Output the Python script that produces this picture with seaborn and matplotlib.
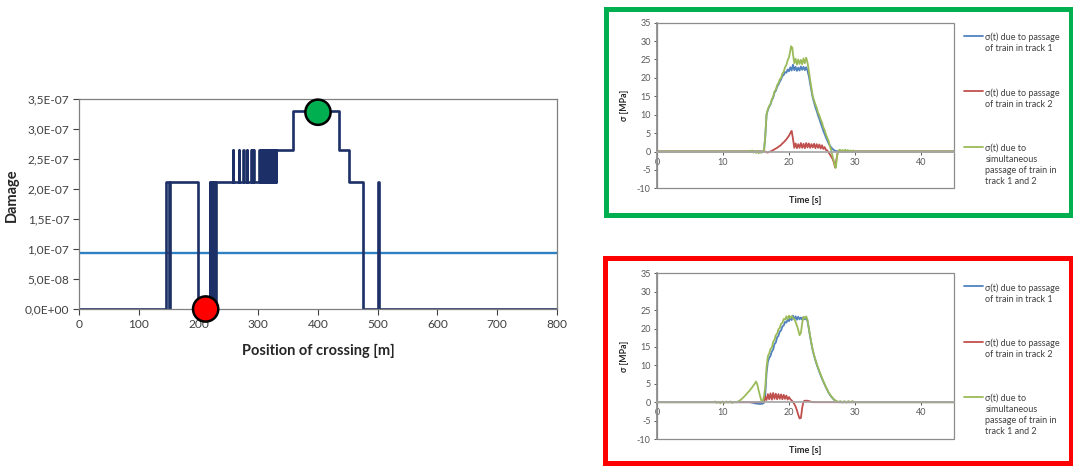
import matplotlib
matplotlib.use("Agg")
import matplotlib.pyplot as plt
import seaborn as sns
from matplotlib.patches import Rectangle

# ---------------- data: damage vs. position of crossing ----------------
L1, L2, L3 = 2.12e-07, 2.65e-07, 3.30e-07
crossing_pos = [0, 146, 151, 153, 199,
                219, 220, 221, 222, 223, 224, 225, 226, 227, 228, 229,
                257, 258, 267, 268, 275, 276, 281, 282, 288, 289, 290, 291, 292, 293,
                302, 303, 304, 305, 306, 308, 309, 310, 311, 313, 314, 316, 317,
                318, 319, 321, 322, 324, 325, 326, 327, 329, 330,
                359, 435, 452, 476, 500, 502, 800]
damage = [0, L1, 0, L1, 0,
          L1, 0, L1, 0, L1, 0, L1, 0, L1, 0, L1,
          L2, L1, L2, L1, L2, L1, L2, L1, L2, L1, L2, L1, L2, L1,
          L2, L1, L2, L1, L2, L1, L2, L1, L2, L1, L2, L1, L2,
          L1, L2, L1, L2, L1, L2, L1, L2, L1, L2,
          L3, L2, L1, 0, L1, 0, 0]
damage_limit = 9.4e-08
marker_pos = [212, 400]
marker_dmg = [0.0, 3.28e-07]
marker_colors = ["#ff0000", "#00b050"]
damage_ticks = [0, 5e-08, 1e-07, 1.5e-07, 2e-07, 2.5e-07, 3e-07, 3.5e-07]
damage_tick_labels = ["0,0E+00", "5,0E-08", "1,0E-07", "1,5E-07",
                      "2,0E-07", "2,5E-07", "3,0E-07", "3,5E-07"]
pos_ticks = [0, 100, 200, 300, 400, 500, 600, 700, 800]

# ---------------- data: stress time histories (top, green frame) ----------------
top_t1 = [0, 16.2, 16.4, 16.6, 16.8, 17.0, 17.2, 17.4, 17.6, 17.8, 18.0, 18.2, 18.4, 18.6, 18.8,
          19.0, 19.2, 19.4, 19.6, 19.8, 20.0, 20.2, 20.4, 20.6, 20.8, 21.0, 21.2, 21.4, 21.6,
          21.8, 22.0, 22.2, 22.4, 22.6, 22.8, 23.0, 23.2, 23.4, 23.6, 23.8, 24.0, 24.2, 24.4,
          24.6, 24.8, 25.0, 25.2, 25.4, 25.6, 25.8, 26.0, 26.2, 26.4, 26.6, 26.8, 27.0, 27.2,
          27.5, 45]
top_s1 = [0, 0, 4.0, 10.0, 11.3, 12.2, 12.8, 14.0, 14.6, 16.0, 16.5, 17.6, 18.2, 19.0, 19.6,
          20.5, 20.8, 21.6, 21.4, 22.3, 21.8, 22.9, 22.0, 23.6, 22.1, 23.0, 21.9, 22.8, 22.0,
          23.1, 22.2, 23.0, 22.1, 22.9, 22.0, 20.5, 18.5, 16.5, 14.6, 13.3, 12.0, 11.0, 9.8,
          8.8, 7.7, 6.7, 5.6, 4.7, 3.8, 3.0, 2.2, 1.6, 1.1, 0.7, 0.4, 0.2, 0.1,
          0.0, 0]
top_t2 = [0, 16.4, 16.6, 16.8, 17.0, 17.2, 17.4, 17.6, 17.8, 18.0, 18.2, 18.4, 18.6, 18.8,
          19.0, 19.2, 19.4, 19.6, 19.8, 20.0, 20.2, 20.4, 20.6, 20.8, 21.0, 21.2, 21.4, 21.6,
          21.8, 22.0, 22.2, 22.4, 22.6, 22.8, 23.0, 23.2, 23.4, 23.6, 23.8, 24.0, 24.2, 24.4,
          24.6, 24.8, 25.0, 25.2, 25.4, 25.6, 25.8, 26.0, 26.2, 26.4, 26.6, 26.8, 27.0, 27.2,
          27.4, 45]
top_s2 = [0, 0, -0.2, -0.3, -0.1, 0.0, 0.2, 0.4, 0.6, 0.8, 1.0, 1.3, 1.5, 1.8,
          2.2, 2.5, 2.9, 3.3, 3.8, 4.3, 5.0, 5.6, 3.5, 1.0, 2.2, 0.9, 2.0, 1.0,
          2.3, 1.0, 2.1, 0.9, 2.3, 1.1, 2.2, 1.0, 2.0, 1.1, 2.1, 0.9, 2.0, 1.0,
          1.9, 0.8, 1.7, 0.7, 1.2, 0.4, 0.3, -0.3, -0.8, -1.4, -2.0, -3.0, -4.4, -2.0,
          0.0, 0]
top_t12 = [0, 13.8, 14.0, 14.2, 14.4, 14.6, 14.8, 15.0, 15.2, 15.4, 15.6, 15.8, 16.0, 16.2,
           16.4, 16.6, 16.8, 17.0, 17.2, 17.4, 17.6, 17.8, 18.0, 18.2, 18.4, 18.6, 18.8,
           19.0, 19.2, 19.4, 19.6, 19.8, 20.0, 20.2, 20.3, 20.4, 20.5, 20.6, 20.8, 21.0,
           21.2, 21.4, 21.6, 21.8, 22.0, 22.2, 22.4, 22.6, 22.8, 23.0, 23.2, 23.4, 23.6,
           23.8, 24.0, 24.2, 24.4, 24.6, 24.8, 25.0, 25.2, 25.4, 25.6, 25.8, 26.0, 26.2,
           26.4, 26.6, 26.8, 27.0, 27.1, 27.3, 27.5, 27.7, 27.9, 28.1, 28.3, 28.5, 28.7,
           28.9, 29.1, 29.3, 29.5, 29.7, 29.9, 30.1, 45]
top_s12 = [0, 0, 0.2, -0.2, 0.3, -0.3, 0.1, -0.4, 0.2, -0.5, 0.0, -0.4, 0.1, 0.0,
           4.0, 10.2, 11.5, 12.4, 12.9, 14.2, 14.8, 16.3, 16.8, 18.0, 18.6, 19.6, 20.0,
           21.2, 21.7, 22.9, 23.5, 24.8, 25.6, 27.4, 28.6, 27.8, 28.3, 26.5, 24.0, 25.2,
           23.6, 25.0, 23.8, 24.9, 23.7, 25.3, 24.0, 25.5, 24.2, 22.0, 19.5, 17.2, 15.0,
           13.9, 12.8, 11.9, 10.6, 9.8, 8.7, 7.9, 6.6, 5.8, 4.6, 3.7, 2.9, 1.4,
           0.3, -1.3, -2.6, -4.2, -4.4, -1.0, 0.2, 0.5, 0.1, 0.4, 0.0, 0.5, 0.1,
           0.4, 0.0, 0.3, -0.1, 0.3, 0.0, 0.0, 0]

# ---------------- data: stress time histories (bottom, red frame) ----------------
bot_t1 = [0, 14.0, 14.4, 14.8, 15.2, 15.6, 16.0, 16.2, 16.4, 16.6, 16.8, 17.0, 17.2, 17.4,
          17.6, 17.8, 18.0, 18.2, 18.4, 18.6, 18.8, 19.0, 19.2, 19.4, 19.6, 19.8, 20.0, 20.2,
          20.4, 20.6, 20.8, 21.0, 21.2, 21.4, 21.6, 21.8, 22.0, 22.2, 22.4, 22.6, 22.8, 23.0,
          23.2, 23.4, 23.6, 23.8, 24.0, 24.2, 24.4, 24.6, 24.8, 25.0, 25.2, 25.4, 25.6, 25.8,
          26.0, 26.2, 26.4, 26.6, 26.8, 27.0, 27.2, 27.5, 45]
bot_s1 = [0, 0, -0.1, -0.3, -0.4, -0.5, -0.4, -0.2, 2.0, 8.0, 11.0, 12.0, 12.6, 13.8,
          14.3, 15.8, 16.2, 17.6, 18.0, 19.2, 19.5, 20.6, 20.8, 21.8, 21.6, 22.5, 22.0, 23.0,
          22.3, 23.5, 22.5, 23.3, 22.4, 23.2, 22.5, 23.0, 22.4, 23.1, 22.5, 23.0, 22.0, 20.0,
          17.8, 15.8, 14.0, 12.6, 11.4, 10.2, 9.2, 8.2, 7.3, 6.4, 5.6, 4.8, 4.0, 3.3,
          2.6, 2.0, 1.5, 1.1, 0.7, 0.4, 0.2, 0.0, 0]
bot_t2 = [0, 16.2, 16.4, 16.6, 16.8, 17.0, 17.2, 17.4, 17.6, 17.8, 18.0, 18.2, 18.4, 18.6,
          18.8, 19.0, 19.2, 19.4, 19.6, 19.8, 20.0, 20.2, 20.4, 20.6, 20.8, 21.0, 21.2, 21.4,
          21.6, 21.8, 22.0, 22.2, 22.4, 22.8, 23.2, 23.6, 45]
bot_s2 = [0, 0, 1.5, 0.6, 2.2, 0.8, 2.4, 0.7, 2.5, 0.9, 2.3, 0.8, 2.2, 0.9,
          2.1, 0.8, 2.0, 0.9, 1.8, 0.7, 1.4, 0.8, 0.5, 0.1, -0.5, -1.2, -2.2, -3.4,
          -4.4, -4.3, -1.5, 0.2, 0.4, 0.4, 0.2, 0.0, 0]
bot_t12 = [0, 8.6, 8.8, 9.0, 9.3, 9.6, 9.9, 10.2, 10.5, 10.8, 11.1, 11.4, 11.7, 12.0,
           12.4, 12.8, 13.2, 13.6, 14.0, 14.4, 14.8, 15.0, 15.2, 15.4, 15.6, 15.8, 16.0,
           16.1, 16.2, 16.4, 16.6, 16.8, 17.0, 17.2, 17.4, 17.6, 17.8, 18.0, 18.2, 18.4,
           18.6, 18.8, 19.0, 19.2, 19.4, 19.6, 19.8, 20.0, 20.2, 20.4, 20.6, 20.8, 21.0,
           21.2, 21.4, 21.6, 21.8, 22.0, 22.2, 22.4, 22.6, 22.8, 23.0, 23.2, 23.4, 23.6,
           23.8, 24.0, 24.2, 24.4, 24.6, 24.8, 25.0, 25.2, 25.4, 25.6, 25.8, 26.0, 26.2,
           26.4, 26.6, 26.8, 27.0, 27.2, 27.5, 27.8, 28.1, 28.4, 28.7, 29.0, 29.3, 29.6,
           29.9, 30.0, 45]
bot_s12 = [0, 0, 0.2, -0.2, 0.1, -0.3, 0.2, -0.2, 0.2, -0.1, 0.2, -0.2, 0.1, 0.0,
           0.3, 0.8, 1.5, 2.3, 3.1, 4.0, 5.0, 5.6, 4.8, 3.2, 1.8, 0.5, 0.0,
           0.8, 1.5, 4.0, 9.5, 12.5, 13.2, 14.5, 14.8, 16.4, 16.9, 18.2, 18.6, 19.8,
           20.2, 21.3, 21.5, 22.6, 22.4, 23.3, 22.6, 23.5, 22.8, 23.4, 22.9, 22.6, 21.8,
           20.8, 19.6, 18.2, 18.8, 21.5, 23.2, 22.8, 23.3, 22.4, 20.2, 18.0, 16.0, 14.2,
           12.8, 11.6, 10.4, 9.4, 8.4, 7.5, 6.6, 5.7, 4.9, 4.1, 3.4, 2.7, 2.1,
           1.6, 1.2, 0.8, 0.5, 0.3, 0.1, 0.3, -0.1, 0.3, -0.1, 0.3, 0.0, 0.3,
           0.0, 0.0, 0]

legend_labels = ["σ(t) due to passage\nof train in track 1",
                 "σ(t) due to passage\nof train in track 2",
                 "σ(t) due to\nsimultaneous\npassage of train in\ntrack 1 and 2"]
series_colors = ["#4f81bd", "#c0504d", "#9bbb59"]
time_ticks = [0, 10, 20, 30, 40]
stress_ticks = [-10, -5, 0, 5, 10, 15, 20, 25, 30, 35]

# ---------------- styling ----------------
sns.set_theme(style="white")
plt.rcParams["font.family"] = ["Lato", "DejaVu Sans"]
plt.rcParams["axes.unicode_minus"] = False

fig = plt.figure(figsize=(10.73, 4.66), dpi=100)

# ---------- left: damage ----------
ax0 = fig.add_axes([0.0736, 0.3369, 0.4455, 0.4506])
sns.lineplot(x=crossing_pos, y=damage, ax=ax0, drawstyle="steps-post",
             estimator=None, sort=False, color="#1c2f66", lw=1.9)
ax0.axhline(damage_limit, color="#2f80c3", lw=1.7, zorder=1)
sns.scatterplot(x=marker_pos, y=marker_dmg, ax=ax0, hue=marker_colors,
                palette=dict(zip(marker_colors, marker_colors)), s=330,
                edgecolor="black", linewidth=1.8, legend=False, zorder=6, clip_on=False)
ax0.set_xlim(0, 800)
ax0.set_ylim(0, 3.5e-07)
ax0.set_xticks(pos_ticks)
ax0.set_yticks(damage_ticks)
ax0.set_yticklabels(damage_tick_labels)
ax0.tick_params(axis="both", labelsize=8.6, colors="#404040", length=4, width=0.8,
                direction="out", bottom=True, left=True, pad=3)
for sp in ax0.spines.values():
    sp.set_color("#7f7f7f")
    sp.set_linewidth(0.9)
ax0.set_xlabel("Position of crossing [m]", fontsize=10.5, fontweight="bold", color="#262626")
ax0.set_ylabel("Damage", fontsize=10.5, fontweight="bold", color="#262626")
ax0.xaxis.set_label_coords(0.5, -0.165)
ax0.yaxis.set_label_coords(-0.125, 0.54)


def stress_panel(rect, series):
    ax = fig.add_axes(rect)
    for (t, s), lab, col in zip(series, legend_labels, series_colors):
        sns.lineplot(x=t, y=s, ax=ax, estimator=None, sort=False, color=col,
                     lw=1.3, label=lab)
    ax.set_xlim(0, 45)
    ax.set_ylim(-10, 35)
    ax.set_xticks(time_ticks)
    ax.set_yticks(stress_ticks)
    ax.spines["bottom"].set_position(("data", 0))
    ax.spines["bottom"].set_color("#a6a6a6")
    ax.spines["left"].set_color("#8c8c8c")
    ax.spines["top"].set_visible(False)
    ax.spines["right"].set_visible(False)
    ax.add_patch(Rectangle((0, 0), 1, 1, transform=ax.transAxes, fill=False,
                           ec="#8c8c8c", lw=0.9, clip_on=False, zorder=0.5))
    ax.tick_params(axis="both", labelsize=6.5, colors="#595959", length=2.5,
                   width=0.7, direction="out", bottom=True, left=True, pad=2)
    ax.set_xlabel("Time [s]", fontsize=6.6, fontweight="bold", color="#262626")
    ax.set_ylabel("σ [MPa]", fontsize=6.3, fontweight="bold", color="#262626")
    ax.xaxis.set_label_coords(0.5, -0.045)
    ax.yaxis.set_label_coords(-0.095, 0.5)
    leg = ax.legend(loc="upper left", bbox_to_anchor=(1.034, 0.94), frameon=False,
                    fontsize=6.5, handlelength=2.1, handletextpad=0.25,
                    labelspacing=3.85, borderpad=0, borderaxespad=0,
                    labelcolor="#404040")
    for txt in leg.get_texts():
        txt.set_linespacing(1.3)
    for ln in leg.get_lines():
        ln.set_linewidth(1.3)
    # align each legend line with the first line of its (multi-line) label
    for column in leg._legend_handle_box.get_children():
        for item in column.get_children():
            item.align = "top"
    return ax


stress_panel([0.6123, 0.5959, 0.2768, 0.3554],
             [(top_t1, top_s1), (top_t2, top_s2), (top_t12, top_s12)])
stress_panel([0.6123, 0.0579, 0.2768, 0.3556],
             [(bot_t1, bot_s1), (bot_t2, bot_s2), (bot_t12, bot_s12)])

# coloured frames around the two stress panels
fig.add_artist(Rectangle((0.5648, 0.5376), 0.4334, 0.4431, transform=fig.transFigure,
                         fill=False, ec="#00b050", lw=3.6))
fig.add_artist(Rectangle((0.5638, 0.0064), 0.4343, 0.4400, transform=fig.transFigure,
                         fill=False, ec="#ff0000", lw=3.6))

fig.savefig("out.png", dpi=100, facecolor="white")
